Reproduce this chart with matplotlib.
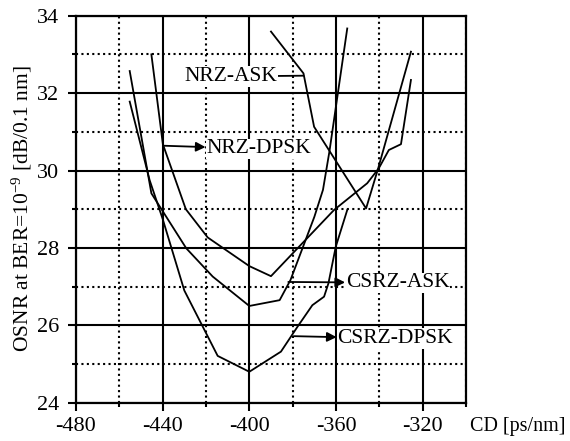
import matplotlib
matplotlib.use("Agg")
import matplotlib.pyplot as plt
from matplotlib.ticker import MultipleLocator

plt.rcParams['font.family'] = ['Liberation Serif', 'DejaVu Serif']
plt.rcParams['mathtext.fontset'] = 'custom'
plt.rcParams['mathtext.rm'] = 'Liberation Serif'
plt.rcParams['mathtext.it'] = 'Liberation Serif:italic'

# CD [ps/nm] and OSNR [dB/0.1 nm]
nrz_ask_cd = [-390.0, -375.0, -370.1, -346.1, -340.5, -325.4]
nrz_ask_osnr = [33.59, 32.51, 31.13, 29.02, 30.06, 33.07]

nrz_dpsk_cd = [-445.2, -439.9, -429.3, -419.2, -400.0, -390.0, -360.9,
               -345.6, -340.2, -335.6, -330.0, -325.4]
nrz_dpsk_osnr = [33.0, 30.68, 29.0, 28.27, 27.53, 27.27, 28.98,
                 29.67, 30.06, 30.53, 30.68, 32.34]

csrz_ask_cd = [-455.2, -445.2, -429.1, -416.9, -400.0, -386.0, -381.0,
               -370.0, -366.0, -363.0, -354.8]
csrz_ask_osnr = [32.57, 29.41, 27.99, 27.26, 26.50, 26.65, 27.17,
                 28.8, 29.5, 30.5, 33.67]

csrz_dpsk_cd = [-455.2, -446.0, -440.0, -430.0, -414.6, -400.0, -385.4,
                -377.8, -370.9, -365.5, -363.5, -360.1, -354.8]
csrz_dpsk_osnr = [31.78, 29.75, 28.75, 26.9, 25.21, 24.80, 25.32,
                  25.96, 26.52, 26.74, 27.08, 28.03, 28.98]

x_ticks = [-480, -440, -400, -360, -320]
y_ticks = [24, 26, 28, 30, 32, 34]

fig = plt.figure(figsize=(5.7, 4.41), dpi=100)
ax = fig.add_axes([0.1333, 0.0868, 0.6842, 0.8776])

for cd, osnr in [(nrz_ask_cd, nrz_ask_osnr), (nrz_dpsk_cd, nrz_dpsk_osnr),
                 (csrz_ask_cd, csrz_ask_osnr), (csrz_dpsk_cd, csrz_dpsk_osnr)]:
    ax.plot(cd, osnr, color='black', lw=1.3, zorder=3)

ax.set_xlim(-480, -300)
ax.set_ylim(24, 34)
ax.set_xticks(x_ticks)
ax.set_xticklabels([str(t) for t in x_ticks])
ax.set_yticks(y_ticks)
ax.xaxis.set_minor_locator(MultipleLocator(20))
ax.yaxis.set_minor_locator(MultipleLocator(1))

ax.grid(which='major', color='black', lw=1.5, ls='-', zorder=1)
ax.grid(which='minor', color='black', lw=1.5, ls=(0, (1, 1.6)), zorder=1)
ax.set_axisbelow(True)

for sp in ax.spines.values():
    sp.set_linewidth(1.6)

ax.tick_params(which='major', direction='out', length=6, width=1.5,
               labelsize=16, pad=4)
ax.tick_params(which='minor', direction='out', length=3, width=1.5)
ax.tick_params(axis='y', pad=6)

ax.set_ylabel('OSNR at BER=10$^{-9}$ [dB/0.1 nm]', fontsize=15.5)
ax.yaxis.set_label_coords(-0.108, 0.5)
fig.text(470 / 570, 1 - 427 / 441, 'CD [ps/nm]', fontsize=14.5,
         ha='left', va='center')

box = dict(fc='white', ec='none', pad=0.5)

# NRZ-ASK: plain leader line to the kink
ax.annotate('NRZ-ASK', xy=(-375.0, 32.45), xytext=(-387.2, 32.43),
            ha='right', va='center', fontsize=15.5, bbox=box, zorder=5,
            arrowprops=dict(arrowstyle='-', color='black', lw=1.3,
                            shrinkA=0, shrinkB=0))

ax.annotate('NRZ-DPSK', xy=(-439.3, 30.64), xytext=(-419.9, 30.56),
            ha='left', va='center', fontsize=15.5, bbox=box, zorder=5,
            arrowprops=dict(arrowstyle='<|-', color='black', lw=1.3,
                            mutation_scale=14, shrinkA=0, shrinkB=0))

ax.annotate('CSRZ-ASK', xy=(-382.0, 27.12), xytext=(-355.5, 27.1),
            ha='left', va='center', fontsize=15.5, bbox=box, zorder=5,
            arrowprops=dict(arrowstyle='<|-', color='black', lw=1.3,
                            mutation_scale=14, shrinkA=0, shrinkB=0))

ax.annotate('CSRZ-DPSK', xy=(-379.5, 25.72), xytext=(-359.4, 25.66),
            ha='left', va='center', fontsize=15.5, bbox=box, zorder=5,
            arrowprops=dict(arrowstyle='<|-', color='black', lw=1.3,
                            mutation_scale=14, shrinkA=0, shrinkB=0))

fig.savefig('out.png', dpi=100)
